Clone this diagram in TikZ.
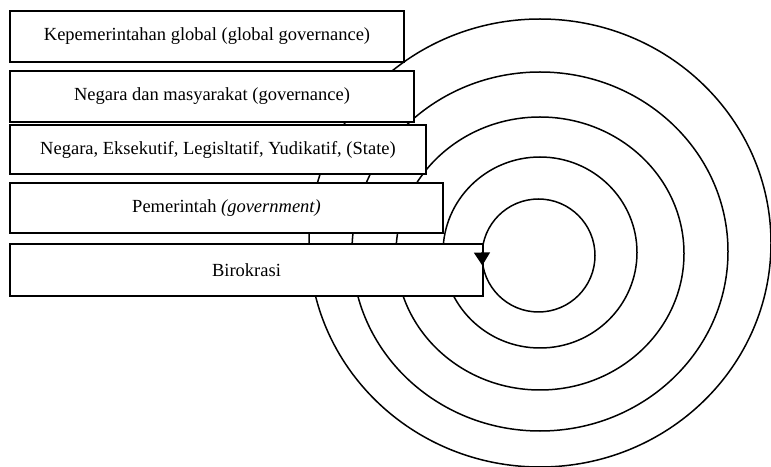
\documentclass[tikz,border=0pt]{standalone}
\usepackage{fontspec}
\setmainfont{Liberation Serif}
\usetikzlibrary{arrows.meta}
\begin{document}
\begin{tikzpicture}[x=1pt,y=1pt,
  ring/.style={line width=1.5pt},
  layerbox/.style={draw,line width=1.9pt,fill=white,inner sep=0pt,
    font=\fontsize{18.5}{22}\selectfont}]
\useasboundingbox (0,0) rectangle (771,466);
\clip (0,0) rectangle (771,466);
% concentric rings
\draw[ring] (540,223) ellipse [x radius=231, y radius=224];
\draw[ring] (540,214.5) ellipse [x radius=188, y radius=179.5];
\draw[ring] (540,212.5) ellipse [x radius=144, y radius=136.5];
\draw[ring] (540,213.5) ellipse [x radius=97, y radius=95.5];
\draw[ring] (538.5,210.5) circle [radius=56.5];
% layers
\node[layerbox,minimum width=394,minimum height=51] (global) at (207,429.5)
  {Kepemerintahan global (global governance)};
\node[layerbox,minimum width=404,minimum height=51] (gov) at (212,369.5)
  {Negara dan masyarakat (governance)};
\node[layerbox,minimum width=416,minimum height=49] (state) at (218,316.5)
  {Negara, Eksekutif, Legisltatif, Yudikatif, (State)};
\node[layerbox,minimum width=433,minimum height=50] (pem) at (226.5,258)
  {Pemerintah \textit{(government)}};
\node[layerbox,minimum width=473,minimum height=52] (biro) at (246.5,196)
  {Birokrasi};
% arrowhead on the inner ring, pointing down its left side
\coordinate (tipfrom) at (482,214);
\coordinate (tipto) at (482.3,200.5);
\draw[ring,-{Triangle[length=13pt,width=16pt]}] (tipfrom) -- (tipto);
\end{tikzpicture}
\end{document}
